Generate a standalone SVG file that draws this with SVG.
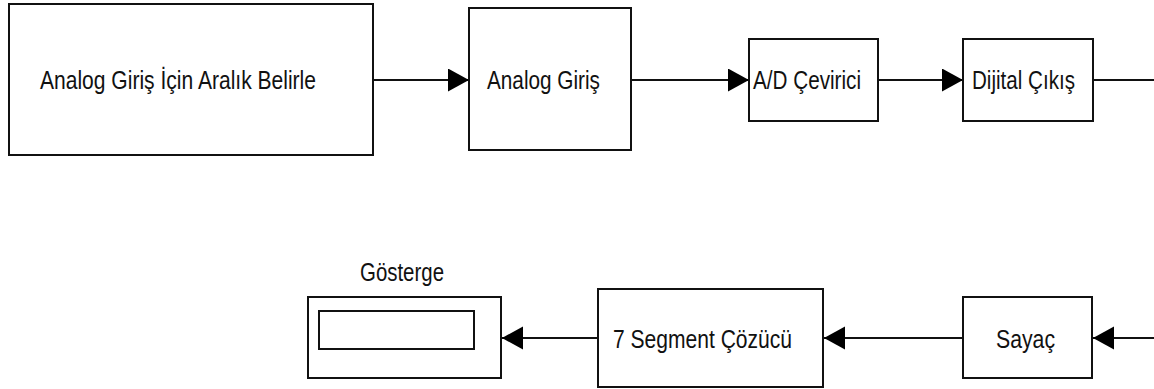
<svg xmlns="http://www.w3.org/2000/svg" width="1154" height="389" viewBox="0 0 1154 389">
<style>
.box{fill:#fff;stroke:#111;stroke-width:2}
.lbl{font-family:"Liberation Sans",Arial,sans-serif;font-size:26px;fill:#111}
.conn{stroke:#111;stroke-width:2;fill:none;marker-end:url(#arr)}
.plain{stroke:#111;stroke-width:2;fill:none}
</style>
<defs>
<marker id="arr" markerUnits="userSpaceOnUse" markerWidth="22" markerHeight="24" refX="21" refY="11.5" orient="auto">
<path d="M0,0 L21,11.5 L0,23 Z" fill="#000"/>
</marker>
</defs>
<rect width="1154" height="389" fill="#fff"/>
<g id="connectors">
<line class="conn" x1="373" y1="80" x2="469" y2="80"/>
<line class="conn" x1="631" y1="80" x2="749" y2="80"/>
<line class="conn" x1="878" y1="80" x2="963" y2="80"/>
<line class="plain" x1="1093" y1="80" x2="1154" y2="80"/>
<line class="conn" x1="1154" y1="338" x2="1093" y2="338"/>
<line class="conn" x1="963" y1="338" x2="824" y2="338"/>
<line class="conn" x1="598" y1="338" x2="502" y2="338"/>
</g>
<g id="node-aralik">
<rect class="box" x="9" y="4" width="364" height="151"/>
<text class="lbl" x="40" y="89" textLength="276" lengthAdjust="spacingAndGlyphs">Analog Giriş İçin Aralık Belirle</text>
</g>
<g id="node-analog">
<rect class="box" x="469" y="8" width="162" height="142"/>
<text class="lbl" x="487" y="89" textLength="113" lengthAdjust="spacingAndGlyphs">Analog Giriş</text>
</g>
<g id="node-ad">
<rect class="box" x="749" y="39" width="129" height="82"/>
<text class="lbl" x="753" y="89" textLength="108" lengthAdjust="spacingAndGlyphs">A/D Çevirici</text>
</g>
<g id="node-dijital">
<rect class="box" x="963" y="39" width="130" height="82"/>
<text class="lbl" x="972" y="89" textLength="103" lengthAdjust="spacingAndGlyphs">Dijital Çıkış</text>
</g>
<g id="node-gosterge">
<text class="lbl" x="360" y="281" textLength="84" lengthAdjust="spacingAndGlyphs">Gösterge</text>
<rect class="box" x="308" y="297" width="193" height="81"/>
<rect class="box" x="319" y="311" width="155" height="38"/>
</g>
<g id="node-segment">
<rect class="box" x="598" y="289" width="225" height="98"/>
<text class="lbl" x="613" y="348" textLength="179" lengthAdjust="spacingAndGlyphs">7 Segment Çözücü</text>
</g>
<g id="node-sayac">
<rect class="box" x="963" y="297" width="129" height="81"/>
<text class="lbl" x="996" y="348" textLength="59" lengthAdjust="spacingAndGlyphs">Sayaç</text>
</g>
</svg>
